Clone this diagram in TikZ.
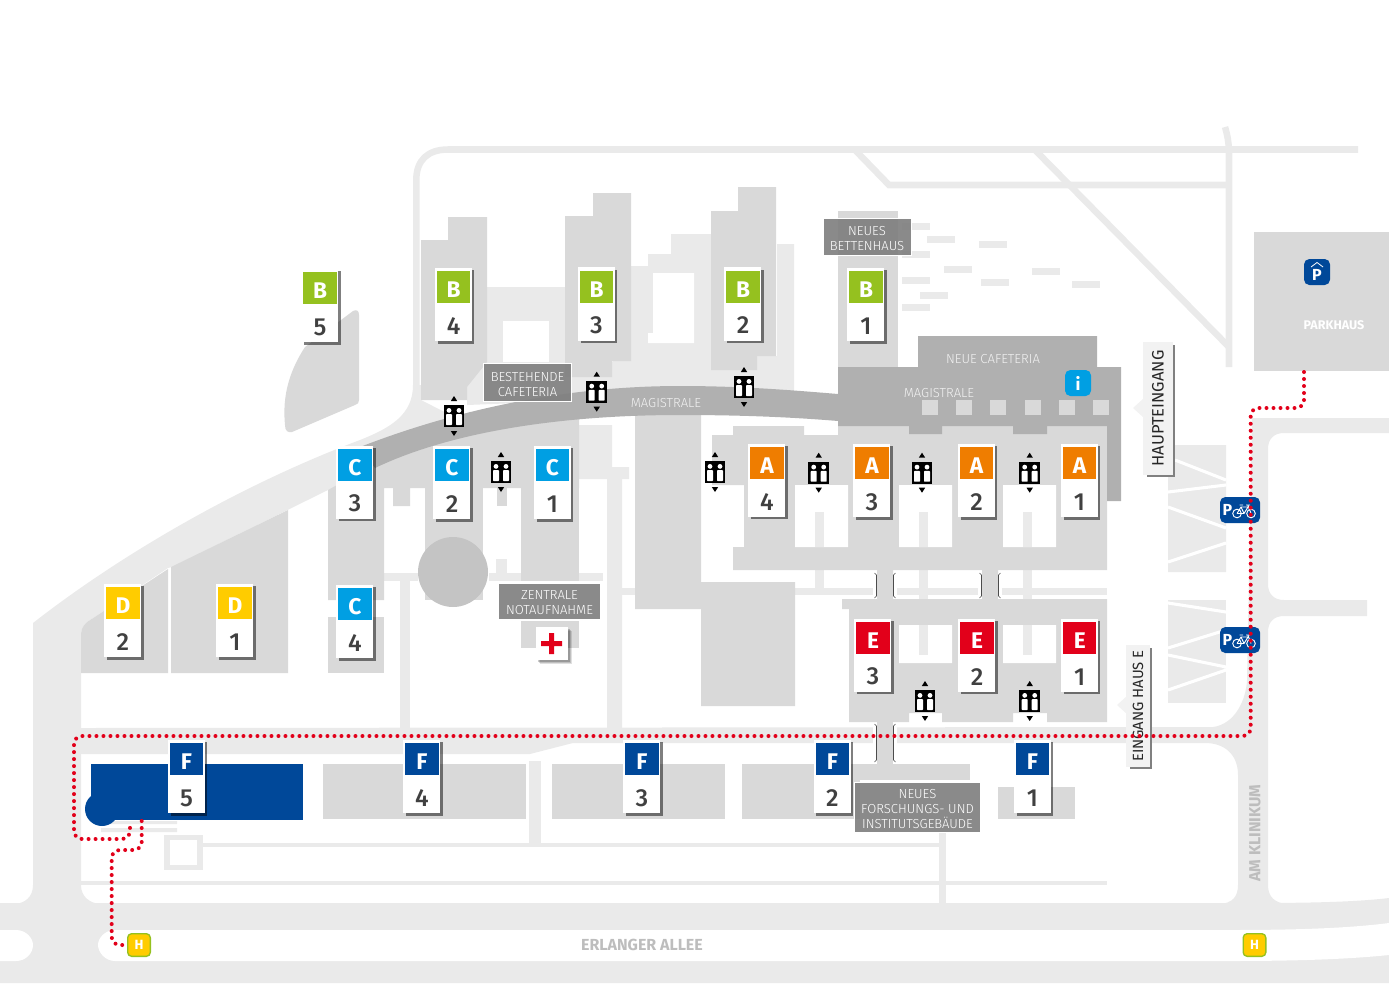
\documentclass[tikz,border=0pt]{standalone}
\usepackage{fontspec}
\setmainfont{Fira Sans}
\newfontfamily\firalight{Fira Sans Light}
\newfontfamily\firamedium{Fira Sans Medium}
\usepackage{xcolor}
\usepackage{tikz}
\usetikzlibrary{positioning}
\definecolor{roadgray}{HTML}{EAEAEA}
\definecolor{bldgray}{HTML}{D9D9D9}
\definecolor{hallgray}{HTML}{B0B0B0}
\definecolor{roundgray}{HTML}{C4C4C4}
\definecolor{labelgray}{HTML}{808080}
\definecolor{streetgray}{HTML}{BDBDBD}
\definecolor{digitgray}{HTML}{404040}
\definecolor{routered}{HTML}{E2001A}
\definecolor{hausA}{HTML}{EF7D00}
\definecolor{hausB}{HTML}{95C11F}
\definecolor{hausC}{HTML}{009FE3}
\definecolor{hausD}{HTML}{FFCC00}
\definecolor{hausE}{HTML}{E2001A}
\definecolor{hausF}{HTML}{004899}
\newcommand{\lblstrut}{\rule{0pt}{9.6pt}}
\tikzset{
  road/.style={fill=roadgray},
  thinroad/.style={draw=roadgray,line width=4.9pt},
  sidebld/.style={fill=roadgray},
  bld/.style={fill=bldgray},
  hall/.style={fill=hallgray},
  signbase/.style={fill=white,minimum width=27.8pt,minimum height=54.8pt,inner sep=0pt},
  signhead/.style={anchor=north,minimum width=24.8pt,minimum height=24pt,inner sep=0pt,text=white,font=\fontsize{17}{17}\selectfont\bfseries},
  signdigit/.style={inner sep=0pt,text=digitgray,font=\firamedium\fontsize{18.5}{18.5}\selectfont},
  darklabel/.style={fill=labelgray,fill opacity=.92,text opacity=1,draw=white,line width=.6pt,text=white,align=center,inner sep=0pt,font=\firalight\fontsize{9.8}{11.2}\selectfont},
  halllabel/.style={inner sep=0pt,text=white!95!black,font=\firalight\fontsize{9.8}{11}\selectfont},
  entrylabel/.style={fill=black!5,rotate=90,inner sep=0pt,text=black!85,align=center},
  street/.style={inner sep=0pt,text=streetgray,font=\fontsize{12}{12}\selectfont\bfseries},
  halt/.style={fill=hausD,draw=hausB,line width=1pt,rounded corners=3pt,minimum size=17pt,inner sep=0pt,text=white,font=\fontsize{10}{10}\selectfont\bfseries},
  pmark/.style={fill=hausF,rounded corners=4pt,inner sep=0pt},
  route/.style={draw=routered,line width=3pt,line cap=round,dash pattern=on 0pt off 5.25pt,rounded corners=6pt},
  bracket/.style={draw=black!70,line width=.45pt}
}
% elevator mark, name / x / y
\newcommand{\liftmark}[3]{
  \begin{scope}[shift={(#2,#3)}]
    \node[fill=black,minimum width=15.7pt,minimum height=16.5pt,inner sep=0pt] (#1) at (0,0) {};
    \fill[white,rounded corners=.5pt] (-8,-1.8) rectangle (-2,9) (2,-1.8) rectangle (8,9);
    \fill[white] (-5,-5.6) circle (2.4) (5,-5.6) circle (2.4);
    \fill[black] (-3.2,-15) -- (3.2,-15) -- (0,-20) -- cycle;
    \fill[black] (-3.2,15) -- (3.2,15) -- (0,20) -- cycle;
  \end{scope}
}
% bicycle parking, name / x / y
\newcommand{\bikemark}[3]{
  \begin{scope}[shift={(#2,#3)}]
    \node[pmark,minimum width=30pt,minimum height=19.5pt] (#1) at (0,0) {};
    \node[inner sep=0pt,text=white,font=\fontsize{12}{12}\selectfont\bfseries] at (-12.5,0) {P};
    \draw[white,line width=.7pt] (-3,3.5) circle (4.3) (11,3.5) circle (4.3)
      (-3,3.5) -- (1,-3) -- (8,-3) -- (4,3.5) -- (-3,3.5) (8,-4.5) -- (11,3.5) (1,-3) -- (4,3.5)
      (-.5,-5) -- (3,-5) (6,-5) -- (10,-5);
  \end{scope}
}
\begin{document}
\begin{tikzpicture}[x=.75pt,y=-.75pt]
\useasboundingbox (0,0) rectangle (1389,983);

% streets
\fill[road] (0,903) -- (1250,903) .. controls (1310,903) and (1355,902) .. (1389,898) -- (1389,983) -- (0,983) -- cycle;
\fill[white] (0,930) -- (16,930) .. controls (26,930) and (33,938) .. (33,945) .. controls (33,953) and (26,961) .. (16,961) -- (0,961) -- cycle;
\fill[white] (115,930) -- (1230,930) .. controls (1300,930) and (1350,928) .. (1389,923) -- (1389,955) .. controls (1350,959) and (1300,961) .. (1230,961) -- (115,961) .. controls (105,961) and (98,952) .. (98,945) .. controls (98,938) and (105,930) .. (115,930);
\fill[road] (15,904) .. controls (25,903) and (33,897) .. (33,885) -- (33,623) .. controls (120,555) and (240,485) .. (360,440) .. controls (390,428) and (413,415) .. (413,385) -- (421,385) -- (421,400) -- (470,425) -- (328,490) -- (172,567) -- (168,568) -- (87,622) .. controls (83,626) and (81,629) .. (81,635) -- (81,885) .. controls (81,897) and (90,903) .. (100,904) -- cycle;
\draw[thinroad] (416.3,390) -- (416.3,180) .. controls (416.3,160) and (428,149.5) .. (448,149.5) -- (1358,149.5);
\draw[thinroad] (856,151) -- (889,185) -- (1229,185);
\draw[thinroad] (1036,151) -- (1229,347);
\draw[thinroad] (1225,127) .. controls (1228,137) and (1229,145) .. (1229,155) -- (1229,367);
\fill[road] (81,728) -- (1213,727) .. controls (1235,724) and (1246,700) .. (1247,680) -- (1252,418) -- (1389,418) -- (1389,433) -- (1284,433) .. controls (1274,433) and (1268,439) .. (1268,449) -- (1268,584) .. controls (1268,594) and (1274,600) .. (1284,600) -- (1367,600) -- (1367,616) -- (1284,616) .. controls (1274,616) and (1268,622) .. (1268,632) -- (1268,885) .. controls (1268,897) and (1275,903) .. (1287,904) -- (1220,904) .. controls (1232,903) and (1238,897) .. (1238,885) -- (1238,775) .. controls (1238,755) and (1225,743) .. (1205,743) -- (573,743) -- (530,754) -- (81,754) -- cycle;
\draw[thinroad,line width=3.4pt] (202,845) -- (939,845);
\draw[thinroad,line width=3.4pt] (81,883) -- (1107,883);
\draw[thinroad,line width=5pt] (942.5,832) -- (942.5,903);
\fill[road] (528.5,761) rectangle (540.7,843);
\fill[road] (400,581) rectangle (410,729);
\fill[road] (384,573) rectangle (418,581);
\fill[road] (489,573) rectangle (603,581);
\fill[road] (496,559) rectangle (507,573);
\draw[thinroad,line width=4pt] (167,837.5) rectangle (200,867.5);
\fill[road] (101,821) rectangle (177,824) (101,828) rectangle (177,832);

% light wings beside the buildings
\fill[sidebld] (579,425) -- (612,425) -- (612,467) -- (629,467) -- (629,479) -- (622,479) -- (622,729) -- (607,729) -- (607,479) -- (579,479) -- cycle;
\fill[sidebld] (487,287) -- (565,287) -- (565,362) -- (612,362) -- (631,343) -- (631,266) -- (648,266) -- (648,254) -- (671,254) -- (671,234) -- (711,234) -- (711,370) -- (730,356) -- (777,356) -- (777,244) -- (794,244) -- (794,392) -- (467,405) -- (467,362) -- (487,362) -- cycle;
\fill[white] (503,321) rectangle (549,362);
\fill[white] (653,273) -- (694,273) -- (694,343) -- (648,343) -- (648,333) -- (653,333) -- cycle;
\fill[road] (622,588) rectangle (635,595);
\fill[road] (795,588) rectangle (1107,595);
\foreach \xpos in {815,919,1023}
  \fill[road] (\xpos,512) rectangle (\xpos+8.5,588);
\foreach \xpos in {919,1023}
  \fill[road] (\xpos,595) rectangle (\xpos+8.5,655);
\foreach \xpos/\ypos in {902/223,927/236,979/241,902/251,944/266,1032/268,902/277,981/279,1072/281,920/292,902/304}
  \fill[road] (\xpos,\ypos) rectangle (\xpos+27.5,\ypos+7);

% bicycle stands
\fill[road] (1175,445) -- (1226,445) -- (1226,572) -- (1168,572) -- (1168,460) -- (1175,460) -- cycle;
\fill[road] (1168,600) rectangle (1226,703);
\draw[white,line width=2.3pt] (1175,460) -- (1226,480) (1168,492) -- (1226,485) (1168,507) -- (1226,528) (1168,562) -- (1226,543)
  (1168,603) -- (1226,612) (1168,648) -- (1226,630) (1168,655) -- (1226,667) (1168,690) -- (1226,670);

% buildings
\fill[bld] (285,425) .. controls (282,395) and (290,370) .. (305,347) -- (353,311) .. controls (357,309) and (359,311) .. (359,315) -- (359,400) .. controls (359,403) and (358,404) .. (355,405) -- (292,432) .. controls (288,433) and (285,431) .. (285,425) -- cycle;
\fill[bld] (421,240) -- (448,240) -- (448,217) -- (487,217) -- (487,362) -- (467,387) -- (467,400) -- (421,400) -- cycle;
\fill[bld] (565,216) -- (593,216) -- (593,193) -- (631,193) -- (631,361) -- (612,361) -- (612,377) -- (565,377) -- cycle;
\fill[bld] (711,211) -- (738,211) -- (738,187) -- (776,187) -- (776,356) -- (757,356) -- (757,370) -- (711,370) -- cycle;
\fill[bld] (838,211) rectangle (898,367);
\fill[bld] (328,490) -- (373,465) -- (433,444) -- (497,427) -- (579,417) -- (579,488) -- (410,488) -- (410,506) -- (393,506) -- (393,488) -- (384,488) -- (384,600) -- (328,600) -- cycle;
\fill[bld] (497,488) rectangle (507,506);
\fill[bld] (425,488) rectangle (483,600);
\fill[bld] (521,488) rectangle (579,581);
\fill[bld] (521,621) rectangle (579,648);
\fill[bld] (328,617) rectangle (384,673);
\fill[bld] (81,635) .. controls (81,629) and (83,626) .. (87,622) -- (168,569) -- (168,673) -- (81,673) -- cycle;
\fill[bld] (171,567) -- (288,510) -- (288,673) -- (171,673) -- cycle;
\fill[bld] (635,415) -- (701,415) -- (701,582) -- (795,582) -- (795,706) -- (701,706) -- (701,609) -- (635,609) -- cycle;
\fill[bld] (712,435) -- (733,435) -- (733,426) -- (804,426) -- (804,435) -- (838,435) -- (838,426) -- (1107,426) -- (1107,570) -- (733,570) -- (733,547) -- (744,547) -- (744,485) -- (712,485) -- cycle;
\fill[white] (795,485) rectangle (848,547) (899,485) rectangle (952,547) (1003,485) rectangle (1056,547);
\foreach \xpos in {815,919,1023}
  \fill[road] (\xpos,512) rectangle (\xpos+8.5,547);
\fill[bld] (877,570) rectangle (893,599) (982,570) rectangle (998,599);
\fill[bld] (842,599) -- (1107,599) -- (1107,722) -- (1047,722) -- (1047,713) -- (1013,713) -- (1013,722) -- (942,722) -- (942,713) -- (909,713) -- (909,722) -- (849,722) -- (849,609) -- (842,609) -- cycle;
\fill[white] (899,625) rectangle (952,663) (1003,625) rectangle (1056,663);
\foreach \xpos in {919,1023}
  \fill[road] (\xpos,625) rectangle (\xpos+8.5,655);
\fill[bld] (877,722) rectangle (893,765);
\fill[bld] (322.5,764) rectangle (525.5,819);
\fill[bld] (552,764) rectangle (725,819);
\fill[bld] (742,764) rectangle (970,780);
\fill[bld] (742,780) rectangle (860,819);
\fill[bld] (998,787) rectangle (1075,819);
\fill[bld] (1254,232) rectangle (1389,371);
\fill[roundgray] (453,572) circle (35);

% patient house F5
\fill[hausF] (90.5,764) rectangle (302.5,819.5);
\fill[hausF] (102,809) circle (17);

% magistrale
\fill[hall] (360,447) .. controls (450,412) and (560,386) .. (680,386) .. controls (740,386) and (790,390) .. (838,394) -- (838,367) -- (918,367) -- (918,336) -- (1097,336) -- (1097,367) -- (1121,367) -- (1121,501) -- (1107,501) -- (1107,426) -- (1047,426) -- (1047,434) -- (1013,434) -- (1013,426) -- (942,426) -- (942,434) -- (909,434) -- (909,426) -- (838,426) -- (838,421) .. controls (790,417) and (740,415) .. (680,415) .. controls (560,415) and (450,432) .. (375,468) -- cycle;
\foreach \xpos in {922,956,990,1025,1059,1093}
  \fill[bldgray] (\xpos,400) rectangle (\xpos+16,415);

% brackets at the bridges
\foreach \xpos/\ytop/\ybot in {877/573/598,982/573/598,877/724/762}{
  \fill[white] (\xpos-4,\ytop) rectangle (\xpos,\ybot);
  \fill[white] (\xpos+16,\ytop) rectangle (\xpos+20,\ybot);
  \draw[bracket] (\xpos-2.5,\ytop) -- (\xpos-.5,\ytop+2) -- (\xpos-.5,\ybot-2) -- (\xpos-2.5,\ybot);
  \draw[bracket] (\xpos+18.5,\ytop) -- (\xpos+16.5,\ytop+2) -- (\xpos+16.5,\ybot-2) -- (\xpos+18.5,\ybot);
}

% labels
\node[darklabel,minimum width=66.5pt,minimum height=29pt] (lblCafeteria) at (527.5,382.5) {\lblstrut BESTEHENDE\\CAFETERIA};
\node[darklabel,minimum width=66pt,minimum height=27.7pt] (lblBetten) at (867,236.5) {\lblstrut NEUES\\BETTENHAUS};
\node[darklabel,minimum width=76pt,minimum height=27pt] (lblNotauf) at (549.5,601) {\lblstrut ZENTRALE\\NOTAUFNAHME};
\node[darklabel,minimum width=94pt,minimum height=37.5pt] (lblForschung) at (917.5,807) {\lblstrut NEUES\\FORSCHUNGS- UND\\INSTITUTSGEBÄUDE};
\node[halllabel] (lblMag1) at (666,403.5) {MAGISTRALE};
\node[halllabel] (lblMag2) at (939,393) {MAGISTRALE};
\node[halllabel] (lblNeueCaf) at (993,359) {NEUE CAFETERIA};
\node[inner sep=0pt,text=white,font=\fontsize{9.4}{9.4}\selectfont\bfseries] (lblParkhaus) at (1334,325) {PARKHAUS};
\node[street] (lblErlanger) at (642,945) {ERLANGER ALLEE};
\node[street,rotate=90] (lblKlinikum) at (1255,833) {AM KLINIKUM};

% entrances
\fill[black!5] (1133,408) -- (1144,398) -- (1144,418) -- cycle;
\fill[labelgray] (1147,345) rectangle (1174.5,477);
\node[entrylabel,minimum width=99.7pt,minimum height=22.5pt,font=\fontsize{12.4}{12.4}\selectfont] (lblHaupt) at (1158,408.5) {HAUPTEINGANG};
\fill[black!5] (1117,705) -- (1128,695) -- (1128,715) -- cycle;
\fill[labelgray] (1130,648) rectangle (1151.5,769);
\node[entrylabel,minimum width=91.5pt,minimum height=18pt,font=\fontsize{11.1}{11.1}\selectfont] (lblEingangE) at (1138,706) {EINGANG HAUS E};

% first aid
\foreach \o/\t in {4/.12,3/.15,2/.2}
  \fill[black,opacity=\t] (536+\o,627+\o) rectangle (568+\o,660+\o);
\node[fill=white,minimum width=24pt,minimum height=24.7pt,inner sep=0pt] (aidBox) at (552,643.5) {};
\fill[routered] (541,641) rectangle (562,646) (549,633) rectangle (554,654);

% service marks
\node[pmark,fill=hausC,minimum size=19.5pt,text=white,font=\fontsize{13}{13}\selectfont\bfseries] (infoMark) at (1078,383) {i};
\node[pmark,minimum size=19.5pt,text=white,font=\fontsize{12}{12}\selectfont\bfseries] (garageMark) at (1317,272) {};
\node[inner sep=0pt,text=white,font=\fontsize{12}{12}\selectfont\bfseries] (garageP) at (1317,274.5) {P};
\draw[white,line width=.6pt] (1311,267) -- (1317,262.5) -- (1323,267);
\bikemark{bikeNorth}{1240}{510}
\bikemark{bikeSouth}{1240}{640}
\node[halt] (haltWest) at (139,945) {H};
\node[halt] (haltEast) at (1254.5,945) {H};

% house signs
\foreach \nm/\col/\lt/\dg/\cx/\ty in {
  B5/hausB/B/5/320/272, B4/hausB/B/4/453.7/271, B3/hausB/B/3/596.5/270.5, B2/hausB/B/2/743/270.5, B1/hausB/B/1/866/271,
  C3/hausC/C/3/355/448.7, C2/hausC/C/2/452/449, C1/hausC/C/1/552.5/449, C4/hausC/C/4/355/588,
  D2/hausD/D/2/123/587, D1/hausD/D/1/235/587,
  A4/hausA/A/4/767/446.7, A3/hausA/A/3/872/447, A2/hausA/A/2/976.5/447, A1/hausA/A/1/1079.5/447,
  E3/hausE/E/3/873/621.7, E2/hausE/E/2/977/621.7, E1/hausE/E/1/1079.7/621.7,
  F5/hausF/F/5/186.5/743, F4/hausF/F/4/422/743, F3/hausF/F/3/642/743, F2/hausF/F/2/832.4/743, F1/hausF/F/1/1032.5/743}{
  \fill[black,opacity=.5] (\cx-16,\ty-1) rectangle (\cx+20.5,\ty+72.5);
  \node[signbase] (base\nm) at (\cx-.2,\ty+33.5) {};
  \node[signhead,fill=\col] (head\nm) at (\cx,\ty) {\raisebox{-1.8pt}[12pt][0pt]{\lt}};
  \node[signdigit] (digit\nm) at (\cx,\ty+55) {\dg};
}

% elevators
\liftmark{liftA}{454}{416}
\liftmark{liftB}{596.7}{391.7}
\liftmark{liftC}{744}{387}
\liftmark{liftD}{501}{472}
\liftmark{liftE}{715}{472}
\liftmark{liftF}{818.7}{472.7}
\liftmark{liftG}{922}{472.7}
\liftmark{liftH}{1029.7}{472.7}
\liftmark{liftI}{925}{701}
\liftmark{liftJ}{1029.7}{701}

% route
\coordinate (garageExit) at (1304,372);
\coordinate (houseDoor) at (130,822);
\coordinate (houseDoorB) at (141.7,821);
\draw[route] (garageExit) -- (1304,408) -- (1250.7,408) -- (1250.7,736) -- (74,736) -- (74,839) -- (130,839) -- (houseDoor);
\draw[route,shorten >=3pt] (houseDoorB) -- (141.7,850) -- (111.7,850) -- (111.7,945) -- (haltWest.west);
\end{tikzpicture}
\end{document}
